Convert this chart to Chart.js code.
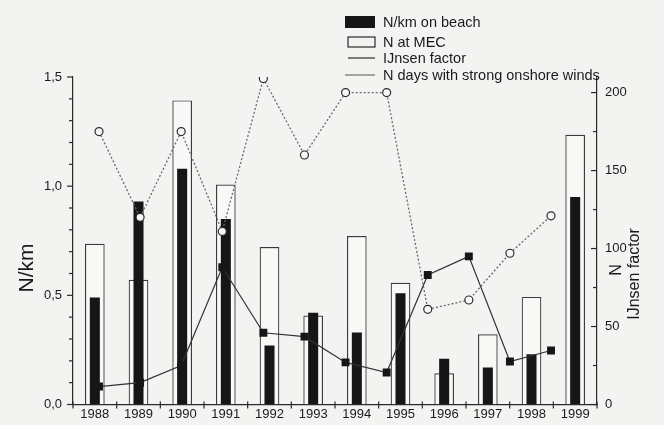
<!DOCTYPE html>
<html>
<head>
<meta charset="utf-8">
<script src="https://cdn.jsdelivr.net/npm/chart.js@4.4.1/dist/chart.umd.min.js"></script>
<style>
  html, body { margin: 0; padding: 0; background: #f3f3f1; }
  #wrap { width: 664px; height: 425px; position: relative; }
</style>
</head>
<body>
<div id="wrap"><canvas id="chart" width="664" height="425"></canvas></div>
<script>
// ── Data ──────────────────────────────────────
const years = ['1988', '1989', '1990', '1991', '1992', '1993', '1994', '1995', '1996', '1997', '1998', '1999'];
const nPerKm = [0.49, 0.93, 1.08, 0.85, 0.27, 0.42, 0.33, 0.51, 0.21, 0.17, 0.23, 0.95];
const nAtMec = [103, 80, 195, 141, 101, 57, 108, 78, 20, 45, 69, 173];
const ijnsenFactor = [11.5, 14, 25, 88, 46, 43.5, 27, 20.5, 83, 95, 27.6, 34.6];
const windDays = [175, 120, 175, 111, 209, 160, 200, 200, 61, 67, 97, 121];

const leftTicks = [0, 0.5, 1.0, 1.5];
const leftTickLabels = ['0,0', '0,5', '1,0', '1,5'];
const rightTicks = [0, 50, 100, 150, 200];

const legendItems = ['N/km on beach', 'N at MEC', 'IJnsen factor', 'N days with strong onshore winds'];

const INK = '#2a2a2a';
const FONT = '"Liberation Sans", Arial, sans-serif';

// ── Tick marks (minor + major, right axis inward) ──
const tickMarks = {
  id: 'tickMarks',
  afterDraw(chart) {
    const { ctx, chartArea: a, scales } = chart;
    ctx.save();
    ctx.strokeStyle = INK;
    ctx.lineWidth = 1.2;
    const seg = (x1, y1, x2, y2) => { ctx.beginPath(); ctx.moveTo(x1, y1); ctx.lineTo(x2, y2); ctx.stroke(); };
    for (let v = 0; v <= 15; v++) {
      const y = scales.y.getPixelForValue(v / 10);
      seg(a.left - (v % 5 === 0 ? 6 : 4), y, a.left, y);
    }
    for (let v = 0; v <= 200; v += 25) {
      const y = scales.y2.getPixelForValue(v);
      seg(a.right - (v % 50 === 0 ? 6 : 4), y, a.right, y);
    }
    for (let i = 0; i <= years.length; i++) {
      const x = scales.x.getPixelForValue(i - 0.5);
      seg(x, a.bottom - 3, x, a.bottom + 4);
    }
    ctx.restore();
  }
};

// ── Axis titles + legend ──────────────────────
const decorations = {
  id: 'decorations',
  afterDraw(chart) {
    const ctx = chart.ctx;
    ctx.save();
    ctx.fillStyle = '#1a1a1a';
    ctx.textAlign = 'center';
    ctx.textBaseline = 'middle';

    const vertical = (text, x, y, size) => {
      ctx.save();
      ctx.translate(x, y);
      ctx.rotate(-Math.PI / 2);
      ctx.font = `${size}px ${FONT}`;
      ctx.fillText(text, 0, 0);
      ctx.restore();
    };
    vertical('N/km', 27, 268, 21);
    vertical('N', 617, 270, 16);
    vertical('IJnsen factor', 635, 274, 16);

    // legend
    const rows = [22, 42, 58, 75];
    const sx = 345, ex = 375, tx = 383;
    ctx.font = `14.5px ${FONT}`;
    ctx.textAlign = 'left';
    ctx.fillStyle = '#161616';
    ctx.fillRect(sx, rows[0] - 6, ex - sx, 12);
    ctx.strokeStyle = INK;
    ctx.lineWidth = 1.2;
    ctx.strokeRect(sx + 3, rows[1] - 5, ex - sx - 3, 10);
    ctx.beginPath(); ctx.moveTo(sx + 3, rows[2]); ctx.lineTo(ex, rows[2]); ctx.stroke();
    ctx.lineWidth = 1;
    ctx.strokeStyle = '#555';
    ctx.beginPath(); ctx.moveTo(sx, rows[3]); ctx.lineTo(ex, rows[3]); ctx.stroke();
    ctx.fillStyle = '#1a1a1a';
    legendItems.forEach((t, i) => ctx.fillText(t, tx, rows[i] + 1));
    ctx.restore();
  }
};

// ── Chart ─────────────────────────────────────
new Chart(document.getElementById('chart'), {
  data: {
    labels: years,
    datasets: [
      {
        type: 'line',
        label: legendItems[3],
        data: windDays.map((v, i) => ({ x: i, y: v })),
        xAxisID: 'x2',
        yAxisID: 'y2',
        borderColor: '#6a6a6a',
        borderWidth: 1.3,
        borderDash: [2, 2],
        pointStyle: 'circle',
        pointRadius: 4,
        pointBackgroundColor: '#f7f7f5',
        pointBorderColor: INK,
        pointBorderWidth: 1.2,
        order: 0
      },
      {
        type: 'line',
        label: legendItems[2],
        data: ijnsenFactor.map((v, i) => ({ x: i, y: v })),
        xAxisID: 'x2',
        yAxisID: 'y2',
        borderColor: '#333',
        borderWidth: 1.2,
        pointStyle: 'rect',
        pointRadius: 5.6,
        pointBackgroundColor: '#161616',
        pointBorderColor: '#161616',
        pointBorderWidth: 0,
        order: 1
      },
      {
        type: 'bar',
        label: legendItems[0],
        data: nPerKm,
        yAxisID: 'y',
        backgroundColor: '#161616',
        borderWidth: 0,
        grouped: false,
        categoryPercentage: 1,
        barPercentage: 0.23,
        order: 2
      },
      {
        type: 'bar',
        label: legendItems[1],
        data: nAtMec,
        yAxisID: 'y2',
        backgroundColor: 'rgba(255,255,255,0.45)',
        borderColor: '#3a3a3a',
        borderWidth: 1.2,
        grouped: false,
        categoryPercentage: 1,
        barPercentage: 0.45,
        order: 3
      }
    ]
  },
  options: {
    responsive: false,
    devicePixelRatio: 1,
    animation: false,
    layout: { padding: { top: 77, right: 0, bottom: 0, left: 0 } },
    plugins: { legend: { display: false }, tooltip: { enabled: false } },
    scales: {
      x: {
        type: 'category',
        offset: true,
        grid: { display: false, drawTicks: false },
        border: { display: true, color: INK, width: 1.2 },
        ticks: { color: '#1a1a1a', font: { family: FONT, size: 13 }, padding: 2, maxRotation: 0, autoSkip: false },
        afterFit: s => { s.height = 20.5; }
      },
      x2: {
        type: 'linear',
        display: false,
        min: -0.633,
        max: 12.119
      },
      y: {
        position: 'left',
        min: 0,
        max: 1.5,
        grid: { display: false, drawTicks: false },
        border: { display: true, color: INK, width: 1.2 },
        afterBuildTicks: s => { s.ticks = leftTicks.map(v => ({ value: v })); },
        ticks: {
          color: '#1a1a1a',
          font: { family: FONT, size: 13 },
          padding: 11,
          callback: (v, i) => leftTickLabels[i]
        },
        afterFit: s => { s.width = 73; }
      },
      y2: {
        position: 'right',
        min: 0,
        max: 210,
        grid: { display: false, drawTicks: false },
        border: { display: true, color: INK, width: 1.2 },
        afterBuildTicks: s => { s.ticks = rightTicks.map(v => ({ value: v })); },
        ticks: { color: '#1a1a1a', font: { family: FONT, size: 13 }, padding: 8 },
        afterFit: s => { s.width = 67; }
      }
    }
  },
  plugins: [tickMarks, decorations]
});
</script>
</body>
</html>
